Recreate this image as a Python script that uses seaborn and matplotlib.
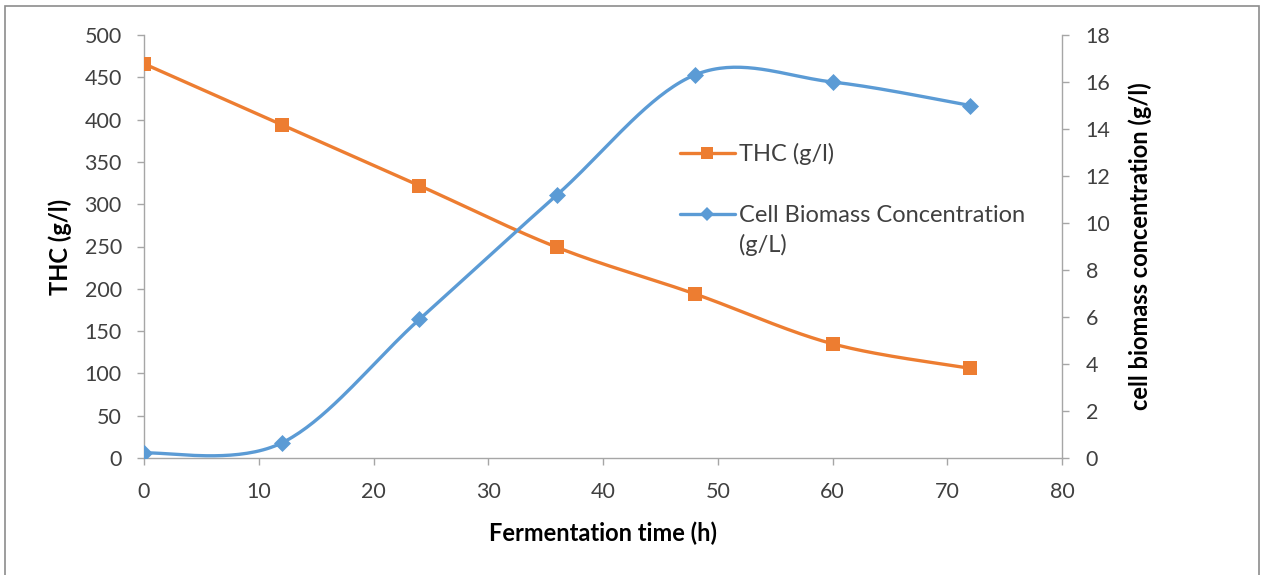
import numpy as np
import pandas as pd
import matplotlib
matplotlib.use("Agg")
import matplotlib.pyplot as plt
from matplotlib.lines import Line2D
from matplotlib.patches import Rectangle
import seaborn as sns

# Fermentation data
time_h = [0, 12, 24, 36, 48, 60, 72]
thc_gl = [466, 394, 322, 249, 194, 135, 106]
biomass_gl = [0.21, 0.64, 5.9, 11.2, 16.3, 16.0, 15.0]

thc_label = "THC (g/l)"
biomass_label = "Cell Biomass Concentration"
biomass_unit = "(g/L)"
x_title = "Fermentation time (h)"
left_title = "THC (g/l)"
right_title = "cell biomass concentration (g/l)"

ORANGE = "#ED7D31"
BLUE = "#5B9BD5"
AXIS_GRAY = "#A6A6A6"
TEXT = "#404040"


def smooth_curve(xs, ys, steps=40):
    """Bezier smoothing through the points (Catmull-Rom style control points)."""
    xs = np.asarray(xs, float)
    ys = np.asarray(ys, float)
    px = np.concatenate([[xs[0]], xs, [xs[-1]]])
    py = np.concatenate([[ys[0]], ys, [ys[-1]]])
    out_x, out_y = [], []
    t = np.linspace(0, 1, steps)
    for i in range(1, len(px) - 2):
        p0 = np.array([px[i - 1], py[i - 1]])
        p1 = np.array([px[i], py[i]])
        p2 = np.array([px[i + 1], py[i + 1]])
        p3 = np.array([px[i + 2], py[i + 2]])
        c1 = p1 + (p2 - p0) / 6.0
        c2 = p2 - (p3 - p1) / 6.0
        b = ((1 - t) ** 3)[:, None] * p1 + (3 * (1 - t) ** 2 * t)[:, None] * c1 \
            + (3 * (1 - t) * t ** 2)[:, None] * c2 + (t ** 3)[:, None] * p2
        if i > 1:
            b = b[1:]
        out_x.extend(b[:, 0])
        out_y.extend(b[:, 1])
    return pd.DataFrame({"x": out_x, "y": out_y})


sns.set_theme(style="white")
plt.rcParams["font.family"] = ["Lato", "DejaVu Sans"]

fig = plt.figure(figsize=(12.61, 5.75), dpi=100)
ax = fig.add_axes([144 / 1261, 117 / 575, 918 / 1261, 423 / 575])
ax2 = ax.twinx()

pts = pd.DataFrame({"time": time_h, "thc": thc_gl, "biomass": biomass_gl})

thc_curve = smooth_curve(time_h, thc_gl)
bio_curve = smooth_curve(time_h, biomass_gl)

sns.lineplot(data=thc_curve, x="x", y="y", ax=ax, color=ORANGE, lw=2.4, sort=False)
sns.scatterplot(data=pts, x="time", y="thc", ax=ax, color=ORANGE, marker="s",
                s=95, edgecolor=ORANGE, linewidth=0, zorder=5)
sns.lineplot(data=bio_curve, x="x", y="y", ax=ax2, color=BLUE, lw=2.4, sort=False)
sns.scatterplot(data=pts, x="time", y="biomass", ax=ax2, color=BLUE, marker="D",
                s=75, edgecolor=BLUE, linewidth=0, zorder=5)

ax.set_xlim(0, 80)
ax.set_ylim(0, 500)
ax2.set_ylim(0, 18)
ax.set_xticks(range(0, 81, 10))
ax.set_yticks(range(0, 501, 50))
ax2.set_yticks(range(0, 19, 2))

for a in (ax, ax2):
    a.spines["top"].set_visible(False)
    for s in a.spines.values():
        s.set_color(AXIS_GRAY)
        s.set_linewidth(1.0)
    a.grid(False)
ax.spines["right"].set_visible(False)
ax2.spines["left"].set_visible(False)
ax2.spines["bottom"].set_visible(False)

tick_kw = dict(direction="out", length=5, width=1, color=AXIS_GRAY,
               labelsize=15.5, labelcolor=TEXT)
ax.tick_params(axis="x", pad=12, bottom=True, **tick_kw)
ax.tick_params(axis="y", pad=11, left=True, **tick_kw)
ax2.tick_params(axis="y", pad=12, right=True, **tick_kw)

ax.set_xlabel(x_title, fontsize=17, fontweight="bold", color="black")
ax.set_ylabel(left_title, fontsize=17, fontweight="bold", color="black")
ax2.set_ylabel(right_title, fontsize=17, fontweight="bold", color="black")
ax.xaxis.set_label_coords(0.5, (458 - 522) / 423)
ax.yaxis.set_label_coords((72 - 144) / 918, 0.5)
ax2.yaxis.set_label_coords((1128 - 144) / 918, 0.5)

handles = [
    Line2D([], [], color=ORANGE, lw=2.4, marker="s", markersize=8, markeredgewidth=0),
    Line2D([], [], color=BLUE, lw=2.4, marker="D", markersize=7, markeredgewidth=0),
]
leg = fig.legend(handles, [thc_label, biomass_label], loc="upper left",
                 bbox_to_anchor=(659 / 1261, 1 - 122 / 575), frameon=False,
                 fontsize=17, labelcolor=TEXT, handlelength=2.3, handletextpad=0.2,
                 labelspacing=1.7)

# wrapped unit line of the second legend entry, under its label
fig.canvas.draw()
ax.annotate(biomass_unit, xy=(0, 0), xycoords=leg.get_texts()[1],
            xytext=(0, -5), textcoords="offset points", ha="left", va="top",
            fontsize=17, color=TEXT, annotation_clip=False)

# Chart frame
fig.patches.append(Rectangle((5 / 1261, -0.05), 1254 / 1261, 1.05 - 6 / 575,
                             transform=fig.transFigure, fill=False,
                             edgecolor="#8C8C8C", linewidth=1.2))

fig.savefig("out.png", dpi=100)
